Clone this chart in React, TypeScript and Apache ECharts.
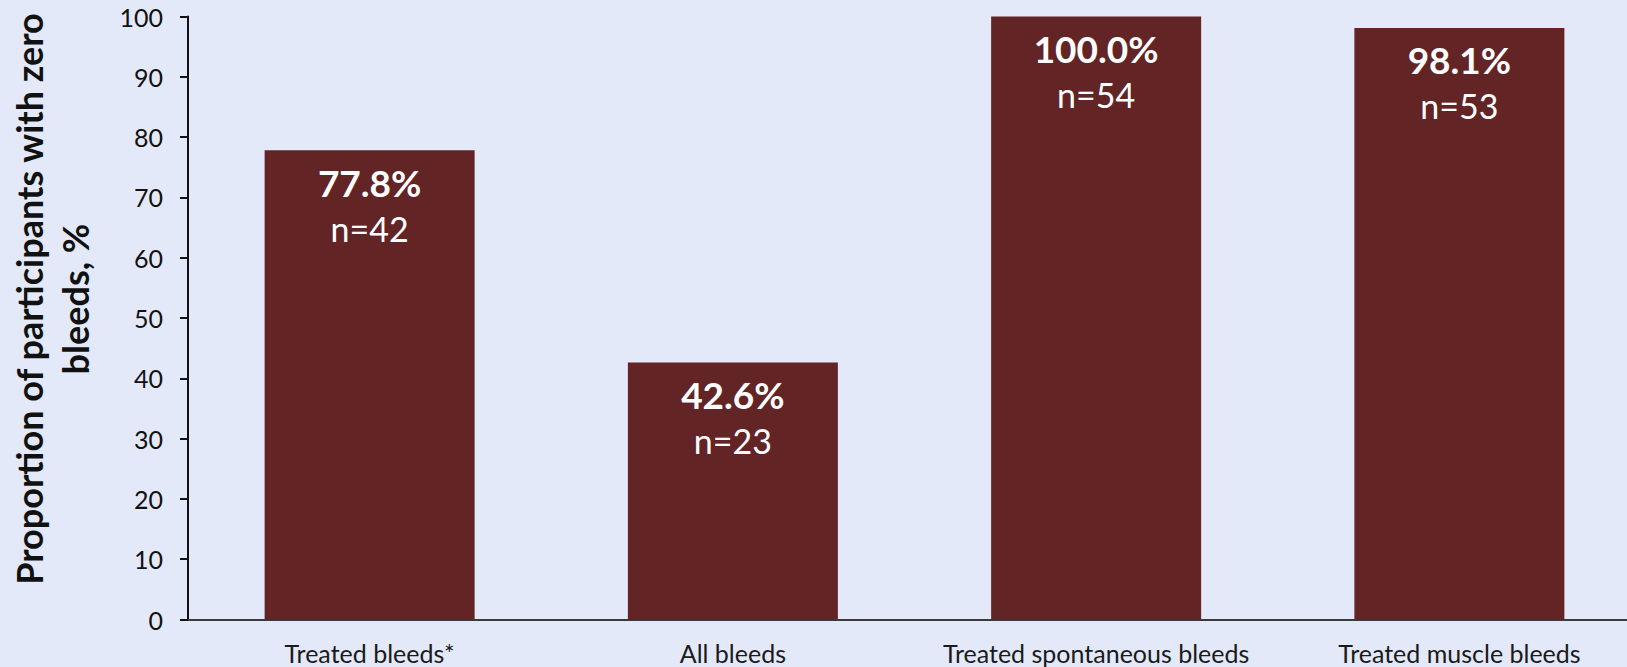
import React, { useEffect, useRef } from "react";
import * as echarts from "echarts";

// Bleed categories and the share of participants with zero bleeds in each
const categories = [
  "Treated bleeds*",
  "All bleeds",
  "Treated spontaneous bleeds",
  "Treated muscle bleeds",
];
const percentZero = [77.8, 42.6, 100.0, 98.1];
const participantCounts = [42, 23, 54, 53];
const yTicks = { min: 0, max: 100, interval: 10 };

const FONT = "Lato, 'Open Sans', 'DejaVu Sans', sans-serif";
const BG = "#E3E9F9";
const BAR = "#632426";

export default function App() {
  const ref = useRef<HTMLDivElement>(null);

  useEffect(() => {
    if (!ref.current) return;
    const chart = echarts.init(ref.current, null, { renderer: "svg" });
    chart.setOption({
      animation: false,
      backgroundColor: BG,
      textStyle: { fontFamily: FONT },
      // the plot runs past the right edge of the canvas
      grid: {
        left: 188,
        top: 16.5,
        height: 603,
        width: 1453,
        outerBoundsMode: "none",
        containLabel: false,
      },
      xAxis: {
        type: "category",
        data: categories,
        axisLine: { show: true, lineStyle: { color: "#3a3a3a", width: 2 } },
        axisTick: { show: false },
        axisLabel: {
          fontFamily: FONT,
          fontSize: 25,
          lineHeight: 25,
          color: "#1a1a1a",
          margin: 21,
          interval: 0,
        },
      },
      yAxis: {
        type: "value",
        min: yTicks.min,
        max: yTicks.max,
        interval: yTicks.interval,
        splitLine: { show: false },
        axisLine: { show: true, lineStyle: { color: "#111", width: 2 } },
        axisTick: {
          show: true,
          inside: false,
          length: 8,
          lineStyle: { color: "#111", width: 2 },
        },
        axisLabel: {
          fontFamily: FONT,
          fontSize: 25,
          color: "#111",
          margin: 25,
        },
      },
      graphic: [
        {
          type: "text",
          x: 52,
          y: 299,
          rotation: Math.PI / 2,
          style: {
            text: "Proportion of participants with zero\nbleeds, %",
            fontFamily: FONT,
            fontWeight: "bold",
            fontSize: 36,
            lineHeight: 46,
            fill: "#111",
            align: "center",
            verticalAlign: "middle",
          },
        },
      ],
      series: [
        {
          type: "bar",
          barWidth: 210,
          data: percentZero,
          itemStyle: { color: BAR },
          label: {
            show: true,
            position: "insideTop",
            distance: 9,
            formatter: (p: any) =>
              `{pct|${p.value.toFixed(1)}%}\n{n|n=${participantCounts[p.dataIndex]}}`,
            rich: {
              pct: {
                fontFamily: FONT,
                fontWeight: "bold",
                fontSize: 37,
                lineHeight: 46,
                color: "#fff",
              },
              n: {
                fontFamily: FONT,
                fontSize: 34,
                lineHeight: 46,
                color: "#fff",
              },
            },
          },
        },
      ],
    });
    return () => chart.dispose();
  }, []);

  return (
    <div
      ref={ref}
      style={{
        position: "fixed",
        left: 0,
        top: 0,
        width: 1627,
        height: 667,
        background: BG,
      }}
    />
  );
}
